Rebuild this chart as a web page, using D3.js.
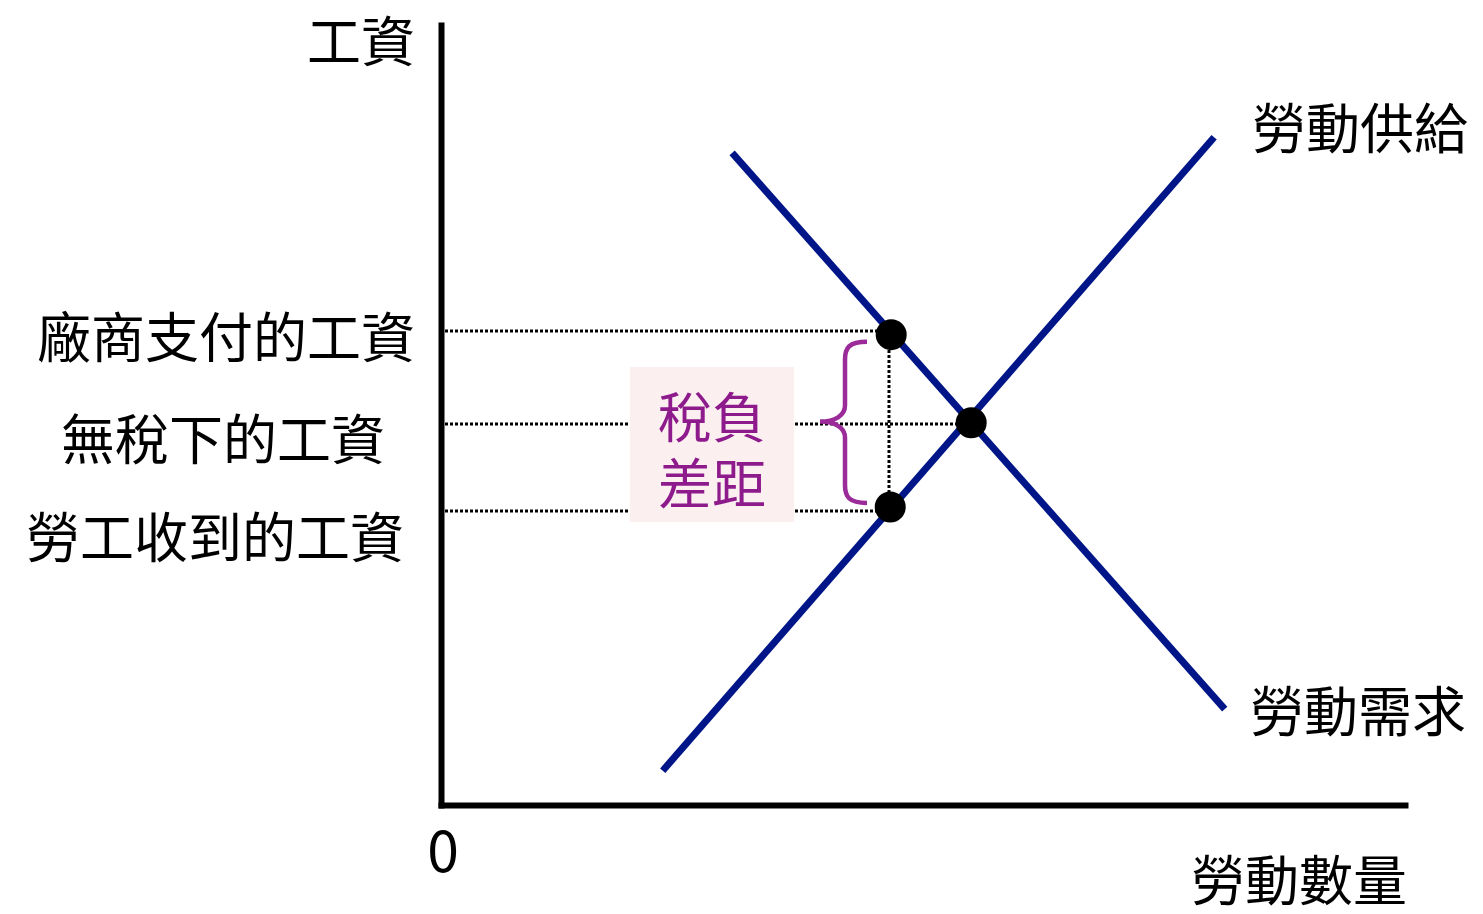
<!DOCTYPE html>
<html>
<head>
<meta charset="utf-8">
<script src="https://cdn.jsdelivr.net/npm/d3@7"></script>
<style>
  html, body { margin: 0; padding: 0; background: #fff; }
  text { font-family: 'Noto Sans CJK TC', 'Noto Sans CJK SC', sans-serif; }
</style>
</head>
<body>
<svg id="chart" width="1483" height="914"></svg>
<script>
/* global d3: false */

// labour market with a payroll tax (quantity 0-100, wage 0-100)
const supplyQ = [23.0, 80.2];
const supplyW = [4.4, 85.6];
const demandQ = [30.2, 81.3];
const demandW = [83.6, 12.3];

// firm pays, no tax, worker receives
const wageLevels = [60.8, 48.9, 37.7];
const wageLabels = ['廠商支付的工資', '無稅下的工資', '勞工收到的工資'];
const pointQ = [46.7, 55.0, 46.6];
const pointW = [60.3, 49.0, 38.2];
const taxQ = 46.5;

const curveLabels = ['勞動供給', '勞動需求'];
const axisLabels = ['工資', '勞動數量', '0'];
const gapLabel = ['稅負', '差距'];

const svg = d3.select('#chart');
const width = 1483;
const height = 914;

const x = d3.scaleLinear().domain([0, 100]).range([441, 1405]);
const y = d3.scaleLinear().domain([0, 100]).range([805, 25]);

svg.append('rect')
  .attr('width', width)
  .attr('height', height)
  .attr('fill', '#fff');

const line = d3.line()
  .x(d => x(d[0]))
  .y(d => y(d[1]));

// snapped version for the thin dotted guides
const crisp = d3.line()
  .x(d => Math.round(x(d[0])))
  .y(d => Math.round(y(d[1])));

// dotted guides
const guides = svg.append('g')
  .attr('fill', 'none')
  .attr('stroke', '#000')
  .attr('stroke-width', 3)
  .attr('stroke-dasharray', '3,2');

wageLevels.forEach((w, i) => {
  guides.append('path')
    .attr('d', crisp([[0.4, w], [pointQ[i], w]]));
});
guides.append('path')
  .attr('d', crisp([[taxQ, pointW[0]], [taxQ, pointW[2]]]));

// gap box + text
const boxX = 630;
const boxW = 164;
const boxTop = 367;
const boxH = 155;
svg.append('rect')
  .attr('x', boxX)
  .attr('y', boxTop)
  .attr('width', boxW)
  .attr('height', boxH)
  .attr('fill', '#fbeff0');

svg.append('g')
  .selectAll('text')
  .data(gapLabel)
  .enter()
  .append('text')
  .attr('x', boxX + boxW / 2)
  .attr('y', (d, i) => 414 + i * 66)
  .attr('text-anchor', 'middle')
  .attr('dominant-baseline', 'central')
  .attr('font-size', 54)
  .attr('fill', '#8e1b8c')
  .text(d => d);

// brace spanning the wage gap
const bTop = y(wageLevels[0]) + 11;
const bBot = y(wageLevels[2]) - 8;
const bMid = y(wageLevels[1]) - 2;
const bRight = 867;
const bStem = 845;
const bTip = 820;
const brace = d3.path();
brace.moveTo(bRight, bTop);
brace.bezierCurveTo(bStem + 4, bTop, bStem, bTop + 6, bStem, bTop + 18);
brace.lineTo(bStem, bMid - 16);
brace.bezierCurveTo(bStem, bMid - 6, bStem - 10, bMid, bTip, bMid);
brace.bezierCurveTo(bStem - 10, bMid, bStem, bMid + 6, bStem, bMid + 16);
brace.lineTo(bStem, bBot - 18);
brace.bezierCurveTo(bStem, bBot - 6, bStem + 4, bBot, bRight, bBot);
svg.append('path')
  .attr('d', brace.toString())
  .attr('fill', 'none')
  .attr('stroke', '#9a2b98')
  .attr('stroke-width', 4.5);

// supply and demand
svg.append('g')
  .selectAll('path')
  .data([d3.zip(supplyQ, supplyW), d3.zip(demandQ, demandW)])
  .enter()
  .append('path')
  .attr('d', line)
  .attr('fill', 'none')
  .attr('stroke', '#001688')
  .attr('stroke-width', 7);

// points
svg.append('g')
  .selectAll('circle')
  .data(d3.zip(pointQ, pointW))
  .enter()
  .append('circle')
  .attr('cx', d => x(d[0]))
  .attr('cy', d => y(d[1]))
  .attr('r', 15.5)
  .attr('fill', '#000');

// axes
const xAxis = svg.append('g')
  .attr('transform', `translate(0,${y(0)})`)
  .call(d3.axisBottom(x).tickValues([]).tickSizeOuter(0));
const yAxis = svg.append('g')
  .attr('transform', `translate(${x(0)},0)`)
  .call(d3.axisLeft(y).tickValues([]).tickSizeOuter(0));
[xAxis, yAxis].forEach((g) => {
  g.select('.domain')
    .attr('stroke', '#000')
    .attr('stroke-width', 6)
    .attr('stroke-linecap', 'square');
});

// wage labels
const labelX = [226, 223, 215];
const labelDy = [4, 13, 24];
svg.append('g')
  .selectAll('text')
  .data(wageLabels)
  .enter()
  .append('text')
  .attr('x', (d, i) => labelX[i])
  .attr('y', (d, i) => y(wageLevels[i]) + labelDy[i])
  .attr('text-anchor', 'middle')
  .attr('dominant-baseline', 'central')
  .attr('font-size', 54)
  .attr('fill', '#000')
  .text(d => d);

// curve labels
svg.append('text')
  .attr('x', 1360)
  .attr('y', y(supplyW[1]) - 12)
  .attr('text-anchor', 'middle')
  .attr('dominant-baseline', 'central')
  .attr('font-size', 54)
  .text(curveLabels[0]);
svg.append('text')
  .attr('x', 1358)
  .attr('y', y(demandW[1]) - 1)
  .attr('text-anchor', 'middle')
  .attr('dominant-baseline', 'central')
  .attr('font-size', 54)
  .text(curveLabels[1]);

// axis titles
svg.append('text')
  .attr('x', 361)
  .attr('y', 38)
  .attr('text-anchor', 'middle')
  .attr('dominant-baseline', 'central')
  .attr('font-size', 54)
  .text(axisLabels[0]);
svg.append('text')
  .attr('x', 1299)
  .attr('y', 877)
  .attr('text-anchor', 'middle')
  .attr('dominant-baseline', 'central')
  .attr('font-size', 54)
  .text(axisLabels[1]);
svg.append('text')
  .attr('x', 443)
  .attr('y', 872)
  .attr('text-anchor', 'middle')
  .attr('font-family', "'Liberation Sans', Arial, sans-serif")
  .attr('font-size', 57)
  .text(axisLabels[2]);
</script>
</body>
</html>
